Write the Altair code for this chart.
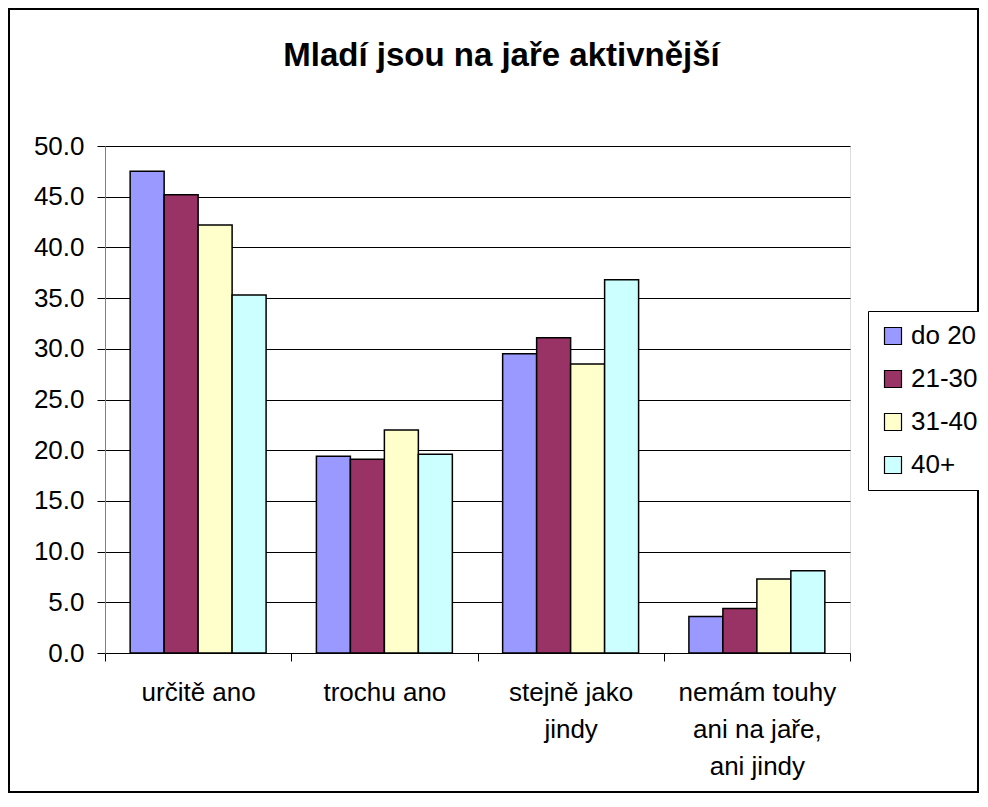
import altair as alt
import pandas as pd

categories = ["určitě ano", "trochu ano", "stejně jako\njindy", "nemám touhy\nani na jaře,\nani jindy"]
groups = ["do 20", "21-30", "31-40", "40+"]
v_do20 = [47.5, 19.4, 29.5, 3.6]
v_21_30 = [45.2, 19.1, 31.1, 4.4]
v_31_40 = [42.2, 22.0, 28.5, 7.3]
v_40p = [35.3, 19.6, 36.8, 8.1]
colors = ["#9999FF", "#993366", "#FFFFCC", "#CCFFFF"]
y_ticks = [0, 5, 10, 15, 20, 25, 30, 35, 40, 45, 50]

series = [v_do20, v_21_30, v_31_40, v_40p]
rows = []
for g, vals in zip(groups, series):
    for c, v in zip(categories, vals):
        rows.append({"cat": c, "grp": g, "val": v})
df = pd.DataFrame(rows)

FONT = "Liberation Sans"

bars = alt.Chart(df).mark_bar(stroke="black", strokeWidth=1.5).encode(
    x=alt.X(
        "cat:N",
        sort=categories,
        scale=alt.Scale(paddingInner=0, paddingOuter=0),
        axis=alt.Axis(
            title=None,
            labelAngle=0,
            tickBand="extent",
            labelExpr="split(datum.label, '\\n')",
            labelFontSize=26,
            labelLineHeight=37,
            labelFont=FONT,
            labelColor="black",
            labelPadding=18,
            grid=False,
            tickSize=8,
            tickColor="black",
            domainColor="black",
            labelBaseline="top",
        ),
    ),
    xOffset=alt.XOffset(
        "grp:N", sort=groups, scale=alt.Scale(paddingOuter=0.74, paddingInner=0)
    ),
    y=alt.Y(
        "val:Q",
        scale=alt.Scale(domain=[0, 50], nice=False),
        axis=alt.Axis(
            title=None,
            values=y_ticks,
            format=".1f",
            labelFontSize=26,
            labelFont=FONT,
            labelColor="black",
            labelPadding=13,
            tickSize=8,
            tickColor="black",
            domainColor="#808080",
            gridColor="black",
            gridWidth=1,
        ),
    ),
    color=alt.Color(
        "grp:N",
        sort=groups,
        scale=alt.Scale(domain=groups, range=colors),
        legend=alt.Legend(
            title=None,
            orient="none",
            legendX=763,
            legendY=165,
            symbolType="square",
            symbolSize=289,
            symbolStrokeColor="black",
            symbolStrokeWidth=1.2,
            symbolOpacity=1,
            labelFontSize=26,
            labelFont=FONT,
            labelColor="black",
            labelOffset=5,
            rowPadding=17,
            padding=12,
            strokeColor="black",
            fillColor="white",
        ),
    ),
)

frame = alt.Chart(pd.DataFrame({"a": [0]})).mark_rect(
    fill="white", fillOpacity=0, stroke="black", strokeWidth=2
).encode(
    x=alt.value(-96),
    x2=alt.value(873),
    y=alt.value(-137),
    y2=alt.value(646),
)

chart = alt.layer(frame, bars).properties(
    width=745,
    height=507,
    autosize=alt.AutoSizeParams(type="none"),
    padding={"left": 97, "top": 138, "right": 129, "bottom": 140},
    title=alt.TitleParams(
        "Mladí jsou na jaře aktivnější",
        font=FONT,
        fontSize=33,
        fontWeight="bold",
        anchor="middle",
        frame="group",
        dx=24,
        offset=-65,
        color="black",
    ),
).configure_view(stroke="#808080", strokeWidth=1.5).configure(background="white")

chart.save("out.html", embed_options={"renderer": "svg", "actions": False})
